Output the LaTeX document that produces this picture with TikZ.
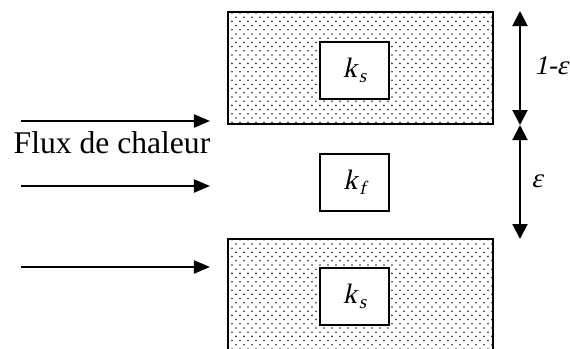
\documentclass[tikz,border=0pt]{standalone}
\usepackage{fontspec}
\setmainfont{Liberation Serif}
\newfontfamily\slantfont{Liberation Serif}[FakeSlant=0.22]
\usetikzlibrary{arrows.meta,patterns}
\pgfdeclarepatternformonly{sparsedots}{\pgfqpoint{-1pt}{-1pt}}{\pgfqpoint{5pt}{5pt}}{\pgfqpoint{4pt}{4.2pt}}{%
  \pgfpathcircle{\pgfqpoint{0pt}{0pt}}{0.45pt}%
  \pgfpathcircle{\pgfqpoint{2pt}{2.1pt}}{0.45pt}%
  \pgfusepath{fill}}
\newcommand{\kk}[1]{{\slantfont k}\kern1pt\raisebox{-0.4ex}{\fontsize{9.5pt}{10pt}\selectfont\slantfont #1}}
\begin{document}
\begin{tikzpicture}[x=0.5pt,y=-0.5pt,
  solid/.style={pattern=sparsedots,pattern color=black!85},
  kbox/.style={draw=black,line width=1pt,fill=white,minimum width=34.5pt,minimum height=28.5pt,inner sep=0pt,font=\fontsize{14pt}{16pt}\selectfont},
  flow/.style={line width=1pt,-{Triangle[length=8pt,width=6.5pt]}},
  dim/.style={line width=1pt,{Triangle[length=7.5pt,width=7.5pt]}-{Triangle[length=7.5pt,width=7.5pt]}},
  lbl/.style={font=\fontsize{13.5pt}{15pt}\selectfont\slantfont,inner sep=0pt}]
\useasboundingbox (0,0) rectangle (570,349);
% top solid layer
\fill[solid] (228,12) rectangle (493,124);
\node[draw=black,line width=1pt,minimum width=132.5pt,minimum height=56pt,inner sep=0pt] (top) at (360.5,68) {};
\node[kbox] (ks1) at (354.5,70.5) {\kk{s}};
% middle fluid
\node[kbox] (kf) at (354.5,182.5) {\kk{f}};
% bottom solid layer
\fill[solid] (228,239) rectangle (493,352);
\coordinate (bl) at (228,352);
\coordinate (br) at (493,352);
\draw[line width=1pt] (bl) |- (493,239) -- (br);
\node[kbox] (ks2) at (354.5,296.5) {\kk{s}};
% heat flow
\node[font=\fontsize{15.8pt}{18pt}\selectfont,inner sep=0pt,anchor=base] (flux) at (112,153) {Flux de chaleur};
\coordinate (a1s) at (21,121); \coordinate (a1e) at (210,121);
\coordinate (a2s) at (21,186); \coordinate (a2e) at (210,186);
\coordinate (a3s) at (21,267); \coordinate (a3e) at (210,267);
\draw[flow] (a1s) -- (a1e);
\draw[flow] (a2s) -- (a2e);
\draw[flow] (a3s) -- (a3e);
% dimensions
\coordinate (d1) at (520,11); \coordinate (d2) at (520,125); \coordinate (d3) at (520,239);
\draw[dim] (d1) -- (d2);
\draw[dim] (d2) -- (d3);
\node[lbl,anchor=west] (l1) at (534,66) {1-ε};
\node[lbl,anchor=west] (l2) at (531,181) {ε};
\end{tikzpicture}
\end{document}
